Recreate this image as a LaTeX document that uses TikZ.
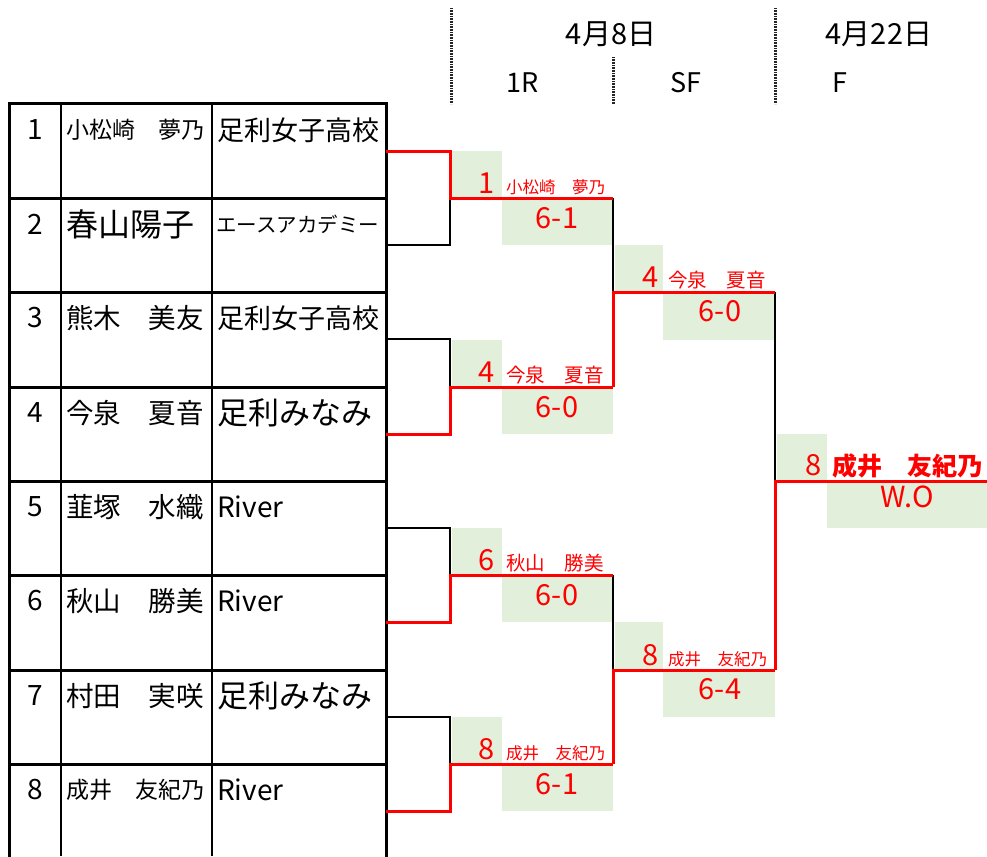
\documentclass[tikz,border=0pt]{standalone}
\usepackage{fontspec}
\setmainfont{Noto Sans CJK JP}
\definecolor{gbox}{HTML}{E2EFDA}
\definecolor{wred}{HTML}{FF0000}
\newcommand\setfs[1]{\fontsize{#1}{#1}\selectfont}
\begin{document}
\begin{tikzpicture}[x=1pt,y=-1pt,
  thickline/.style={line width=3pt,line cap=rect},
  thinline/.style={line width=1.2pt},
  winline/.style={line width=3pt,wred},
  loseline/.style={line width=1.2pt,black},
  greenbox/.style={fill=gbox,draw=none},
  dotline/.style={line width=3pt,black!85,dash pattern=on 0.9pt off 0.7pt},
  numtxt/.style={inner sep=0pt,font=\setfs{28}},
  celltxt/.style={anchor=west,inner sep=0pt},
  hdr/.style={inner sep=0pt},
  rednum/.style={anchor=base east,inner sep=0pt,text=wred,font=\setfs{29}},
  redname/.style={anchor=base west,inner sep=0pt,text=wred},
  score/.style={inner sep=0pt,text=wred,font=\setfs{29}}]
\useasboundingbox (0,0) rectangle (987,856);

% ---------- green result boxes ----------
\fill[greenbox] (452,151) rectangle (502,198);
\fill[greenbox] (502,198) rectangle (613,245);
\fill[greenbox] (452,340) rectangle (502,387);
\fill[greenbox] (502,387) rectangle (613,434);
\fill[greenbox] (452,528) rectangle (502,575);
\fill[greenbox] (502,575) rectangle (613,622);
\fill[greenbox] (452,717) rectangle (502,764);
\fill[greenbox] (502,764) rectangle (613,811);
\fill[greenbox] (615,245) rectangle (663,292);
\fill[greenbox] (663,292) rectangle (775,340);
\fill[greenbox] (615,622) rectangle (663,670);
\fill[greenbox] (663,670) rectangle (775,717);
\fill[greenbox] (777,434) rectangle (827,481);
\fill[greenbox] (827,481) rectangle (987,528);

% ---------- header ----------
\draw[dotline] (451,8) -- (451,104);
\draw[dotline] (613,57) -- (613,104);
\draw[dotline] (775,8) -- (775,104);
\node[hdr,font=\setfs{29}] (d1) at (611,34) {4月8日};
\node[hdr,font=\setfs{29}] (d2) at (879,34) {4月22日};
\node[hdr,font=\setfs{27}] (r1) at (523,83) {1R};
\node[hdr,font=\setfs{27}] (r2) at (686,83) {SF};
\node[hdr,font=\setfs{27}] (r3) at (840,83) {F};

% ---------- table ----------
\draw[thinline] (61,104) -- (61,856);
\draw[thinline] (212,104) -- (212,856);
\foreach \yy in {104,198,292,387,481,575,670,764}
  \draw[thickline] (9,\yy) -- (386,\yy);
\draw[thickline] (9,104) -- (9,858);
\draw[thickline] (386,104) -- (386,858);

\node[numtxt] (n1) at (35,130) {1};
\node[numtxt] (n2) at (35,224) {2};
\node[numtxt] (n3) at (35,318) {3};
\node[numtxt] (n4) at (35,413) {4};
\node[numtxt] (n5) at (35,507) {5};
\node[numtxt] (n6) at (35,601) {6};
\node[numtxt] (n7) at (35,696) {7};
\node[numtxt] (n8) at (35,790) {8};

\node[celltxt,font=\setfs{23}] (p1) at (66,130) {小松崎　夢乃};
\node[celltxt,font=\setfs{32}] (p2) at (66,224) {春山陽子};
\node[celltxt,font=\setfs{27.5}] (p3) at (66,318) {熊木　美友};
\node[celltxt,font=\setfs{27.5}] (p4) at (66,413) {今泉　夏音};
\node[celltxt,font=\setfs{27.5}] (p5) at (66,507) {韮塚　水織};
\node[celltxt,font=\setfs{27.5}] (p6) at (66,601) {秋山　勝美};
\node[celltxt,font=\setfs{27.5}] (p7) at (66,696) {村田　実咲};
\node[celltxt,font=\setfs{23}] (p8) at (66,790) {成井　友紀乃};

\node[celltxt,font=\setfs{27}] (s1) at (217,130) {足利女子高校};
\node[celltxt,font=\setfs{20.5}] (s2) at (216,224) {エースアカデミー};
\node[celltxt,font=\setfs{27}] (s3) at (217,318) {足利女子高校};
\node[celltxt,font=\setfs{31}] (s4) at (217,413) {足利みなみ};
\node[celltxt,font=\setfs{28}] (s5) at (217,507) {River};
\node[celltxt,font=\setfs{28}] (s6) at (217,601) {River};
\node[celltxt,font=\setfs{31}] (s7) at (217,696) {足利みなみ};
\node[celltxt,font=\setfs{28}] (s8) at (217,790) {River};

% ---------- bracket points ----------
\foreach \i/\yy in {1/151,2/245,3/339,4/434,5/528,6/622,7/717,8/811}{
  \coordinate (e\i) at (386,\yy);
  \coordinate (k\i) at (450,\yy);
}
\coordinate (m1) at (450,198);  \coordinate (o1) at (613,198);
\coordinate (m2) at (450,387);  \coordinate (o2) at (613,387);
\coordinate (m3) at (450,575);  \coordinate (o3) at (613,575);
\coordinate (m4) at (450,764);  \coordinate (o4) at (613,764);
\coordinate (sm1) at (613,292); \coordinate (so1) at (775,292);
\coordinate (sm2) at (613,670); \coordinate (so2) at (775,670);
\coordinate (fm) at (775,481);  \coordinate (fo) at (987,481);

% losers
\draw[loseline] (e2) -- (k2) -- (m1);
\draw[loseline] (e3) -- (k3) -- (m2);
\draw[loseline] (e5) -- (k5) -- (m3);
\draw[loseline] (e7) -- (k7) -- (m4);
\draw[loseline] (o1) -- (sm1);
\draw[loseline] (o3) -- (sm2);
\draw[loseline] (so1) -- (fm);
% winners
\draw[winline] (e1) -- (k1) -- (m1) -- (o1);
\draw[winline] (e4) -- (k4) -- (m2) -- (o2);
\draw[winline] (e6) -- (k6) -- (m3) -- (o3);
\draw[winline] (e8) -- (k8) -- (m4) -- (o4);
\draw[winline] (o2) -- (sm1) -- (so1);
\draw[winline] (o4) -- (sm2) -- (so2);
\draw[winline] (so2) -- (fm) -- (fo);

% ---------- result labels ----------
\node[rednum] (w1n) at (495,193) {1};
\node[redname,font=\setfs{16.5}] (w1) at (506,193) {小松崎　夢乃};
\node[score] (w1s) at (557,218) {6-1};
\node[rednum] (w2n) at (495,382) {4};
\node[redname,font=\setfs{19.5}] (w2) at (506,382) {今泉　夏音};
\node[score] (w2s) at (557,407) {6-0};
\node[rednum] (w3n) at (495,570) {6};
\node[redname,font=\setfs{19.5}] (w3) at (506,570) {秋山　勝美};
\node[score] (w3s) at (557,595) {6-0};
\node[rednum] (w4n) at (495,759) {8};
\node[redname,font=\setfs{16.5}] (w4) at (506,759) {成井　友紀乃};
\node[score] (w4s) at (557,784) {6-1};

\node[rednum] (x1n) at (659,287) {4};
\node[redname,font=\setfs{19.5}] (x1) at (668,287) {今泉　夏音};
\node[score] (x1s) at (720,311) {6-0};
\node[rednum] (x2n) at (659,665) {8};
\node[redname,font=\setfs{16.5}] (x2) at (668,665) {成井　友紀乃};
\node[score] (x2s) at (720,689) {6-4};

\node[rednum] (fn) at (822,475) {8};
\node[redname,font=\setfs{25}\bfseries] (fw) at (832,475) {成井　友紀乃};
\node[score] (fs) at (907,497) {W.O};
\end{tikzpicture}
\end{document}
